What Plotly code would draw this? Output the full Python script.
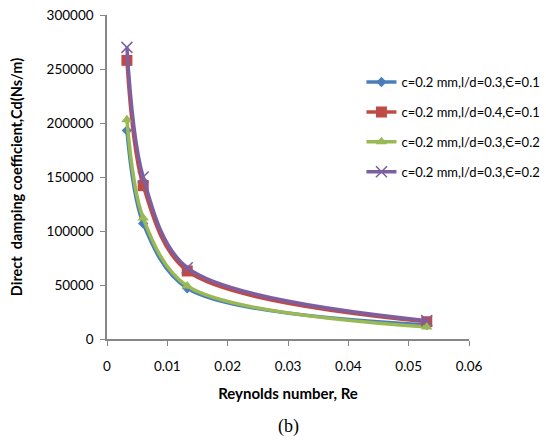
import plotly.graph_objects as go

re_vals = [0.0033, 0.006, 0.0133, 0.053]
names = ["c=0.2 mm,l/d=0.3,Є=0.1", "c=0.2 mm,l/d=0.4,Є=0.1",
         "c=0.2 mm,l/d=0.3,Є=0.2", "c=0.2 mm,l/d=0.3,Є=0.2"]
blue = [193000, 107000, 47000, 13000]
red = [258000, 142000, 63000, 16000]
green = [203000, 112000, 49000, 11000]
purple = [270000, 150000, 66000, 17000]

series = [blue, red, green, purple]
colors = ["#4A7EBB", "#BE4B48", "#98B954", "#7D5FA0"]
symbols = ["diamond", "square", "triangle-up", "x-thin"]
sizes = [8, 11, 10, 11]

fig = go.Figure()
for i, (nm, ys) in enumerate(zip(names, series)):
    mk = dict(symbol=symbols[i], size=sizes[i], color=colors[i])
    if symbols[i] == "x-thin":
        mk["line"] = dict(color=colors[i], width=1.5)
    fig.add_trace(go.Scatter(x=re_vals, y=ys, name=nm, mode="lines+markers",
                             line=dict(color=colors[i], width=3.5, shape="spline", smoothing=0.9),
                             marker=mk, legendgroup=str(i)))

fig.update_layout(
    width=546, height=441,
    margin=dict(l=107, r=77, t=15, b=102, autoexpand=False),
    paper_bgcolor="white", plot_bgcolor="white",
    font=dict(family="Lato", size=13.5, color="#000000"),
    showlegend=True,
    legend=dict(xref="container", yref="container", x=0.662, y=0.848,
                xanchor="left", yanchor="top",
                font=dict(size=13), tracegroupgap=10, bgcolor="rgba(0,0,0,0)"),
    xaxis=dict(range=[0, 0.06], dtick=0.01, showgrid=False, zeroline=False,
               showline=True, linecolor="#868686", linewidth=1.5,
               ticks="outside", ticklen=5, tickcolor="#868686",
               tickformat="~g", ticklabelstandoff=9,
               title=dict(text="<b>Reynolds number, Re</b>", font=dict(size=15), standoff=16)),
    yaxis=dict(range=[0, 300000], dtick=50000, showgrid=False, zeroline=False,
               showline=True, linecolor="#868686", linewidth=1.5,
               ticks="outside", ticklen=5, tickcolor="#868686",
               tickformat="d", ticklabelstandoff=4,
               title=dict(text="<b>Direct  damping coefficient,Cd(Ns/m)</b>", font=dict(size=14.5), standoff=20)),
)
fig.add_annotation(text="(b)", xref="paper", yref="paper", x=0.5, y=-0.27,
                   yanchor="middle", showarrow=False,
                   font=dict(family="Liberation Serif", size=18))
fig.write_html("out.html")
